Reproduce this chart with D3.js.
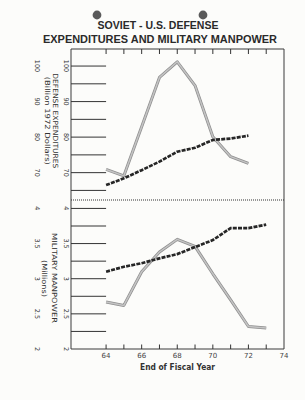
<!DOCTYPE html>
<html>
<head>
<meta charset="utf-8">
<script src="https://cdn.jsdelivr.net/npm/d3@7"></script>
<style>
  html, body { margin: 0; padding: 0; background: #fcfcfa; }
  svg { display: block; }
</style>
</head>
<body>
<div id="chart"></div>
<script>
// fiscal years
const years = [64, 65, 66, 67, 68, 69, 70, 71, 72, 73];
const xTicks = [64, 66, 68, 70, 72, 74];

// defense expenditures, billion 1972 dollars (64..72)
const spendGrey = [70.9, 69.1, 82.9, 96.8, 101.2, 94.5, 80.1, 74.5, 72.6];
const spendDash = [66.5, 68.4, 70.7, 73.1, 75.9, 77.0, 79.2, 79.6, 80.4];
const spendTicks = [100, 95, 90, 85, 80, 75, 70, 65];
const spendLabels = [100, 90, 80, 70];

// military manpower, millions (64..73)
const menGrey = [2.67, 2.62, 3.10, 3.38, 3.56, 3.46, 3.07, 2.70, 2.32, 2.30];
const menDash = [3.10, 3.17, 3.22, 3.29, 3.35, 3.45, 3.55, 3.72, 3.72, 3.77];
const menTicks = [4, 3.75, 3.5, 3.25, 3, 2.75, 2.5, 2.25];
const menLabels = ["4", "3.5", "3", "2.5", "2"];

const width = 305, height = 400;
const fLeft = 71, fRight = 284, fTop = 49, fBottom = 349, fMid = 200;

const svg = d3.select("#chart")
  .append("svg")
  .attr("width", width)
  .attr("height", height)
  .style("font-family", "'DejaVu Sans', sans-serif");

const x = d3.scaleLinear().domain([62, 74]).range([70.5, 284]);
const yTop = d3.scaleLinear().domain([62.3, 104.8]).range([fMid, fTop]);
const yBot = d3.scaleLinear().domain([2, 4.12]).range([fBottom, fMid]);

// punch holes
svg.selectAll("circle.hole")
  .data([97, 203])
  .enter()
  .append("circle")
  .attr("cx", d => d)
  .attr("cy", 15)
  .attr("r", 4.4)
  .attr("fill", "#5a5a5a");

// title
const titleFont = "'Liberation Sans', Arial, sans-serif";
svg.append("text")
  .attr("x", 158).attr("y", 29)
  .attr("text-anchor", "middle")
  .attr("font-family", titleFont)
  .attr("font-weight", "bold")
  .attr("font-size", 11)
  .attr("fill", "#2a2a2a")
  .attr("textLength", 121).attr("lengthAdjust", "spacingAndGlyphs")
  .text("SOVIET - U.S. DEFENSE");
svg.append("text")
  .attr("x", 160).attr("y", 42.5)
  .attr("text-anchor", "middle")
  .attr("font-family", titleFont)
  .attr("font-weight", "bold")
  .attr("font-size", 11)
  .attr("fill", "#2a2a2a")
  .attr("textLength", 234).attr("lengthAdjust", "spacingAndGlyphs")
  .text("EXPENDITURES AND MILITARY MANPOWER");

// frame
svg.append("path")
  .attr("d", `M${fLeft},${fTop}H${fRight}V${fBottom}H${fLeft}Z`)
  .attr("fill", "none")
  .attr("stroke", "#3a3a3a")
  .attr("stroke-width", 1);

// dotted divider
svg.append("line")
  .attr("x1", fLeft).attr("x2", fRight)
  .attr("y1", fMid).attr("y2", fMid)
  .attr("stroke", "#333")
  .attr("stroke-width", 1.2)
  .attr("stroke-dasharray", "1,1");

// left tick lines, long ones reaching to the 64 position
const tickEnd = x(64);
svg.selectAll("line.ttick")
  .data(spendTicks)
  .enter()
  .append("line")
  .attr("x1", fLeft).attr("x2", tickEnd)
  .attr("y1", d => yTop(d)).attr("y2", d => yTop(d))
  .attr("stroke", "#333").attr("stroke-width", 1);
svg.selectAll("line.btick")
  .data(menTicks)
  .enter()
  .append("line")
  .attr("x1", fLeft).attr("x2", tickEnd)
  .attr("y1", d => yBot(d)).attr("y2", d => yBot(d))
  .attr("stroke", "#333").attr("stroke-width", 1);

// year ticks top and bottom
svg.selectAll("line.xtop")
  .data(years)
  .enter()
  .append("line")
  .attr("x1", d => x(d)).attr("x2", d => x(d))
  .attr("y1", fTop).attr("y2", fTop + 5)
  .attr("stroke", "#333");
svg.selectAll("line.xbot")
  .data(years)
  .enter()
  .append("line")
  .attr("x1", d => x(d)).attr("x2", d => x(d))
  .attr("y1", fBottom).attr("y2", fBottom - 4.5)
  .attr("stroke", "#333");

svg.selectAll("text.xlab")
  .data(xTicks)
  .enter()
  .append("text")
  .attr("x", d => x(d))
  .attr("y", 358)
  .attr("text-anchor", "middle")
  .attr("font-size", 7)
  .attr("fill", "#444")
  .text(d => d);

svg.append("text")
  .attr("x", 177.5).attr("y", 370)
  .attr("text-anchor", "middle")
  .attr("font-weight", "bold")
  .attr("font-size", 9)
  .attr("fill", "#333")
  .attr("textLength", 75).attr("lengthAdjust", "spacingAndGlyphs")
  .text("End of Fiscal Year");

// rotated labels (read top to bottom)
function vText(cx, cy, txt, size, len) {
  const t = svg.append("text")
    .attr("transform", `translate(${cx},${cy}) rotate(90)`)
    .attr("text-anchor", "middle")
    .attr("dominant-baseline", "central")
    .attr("font-size", size)
    .attr("fill", "#333")
    .text(txt);
  if (len) t.attr("textLength", len).attr("lengthAdjust", "spacingAndGlyphs");
  return t;
}

[65.5, 36.5].forEach(cx => {
  spendLabels.forEach(v => vText(cx, yTop(v), v, 6.5));
  menLabels.forEach(v => vText(cx, yBot(+v), v, 6.5));
});

vText(55, 120.8, "DEFENSE EXPENDITURES", 7, 95);
vText(46.5, 120.8, "(Billion 1972 Dollars)", 7, 88);
vText(53.5, 278, "MILITARY MANPOWER", 7, 90);
vText(44, 278.5, "(Millions)", 7, 37);

// series lines
const lineTop = d3.line().x((d, i) => x(years[i])).y(d => yTop(d));
const lineBot = d3.line().x((d, i) => x(years[i])).y(d => yBot(d));

function greyLine(data, gen) {
  svg.append("path")
    .attr("d", gen(data))
    .attr("fill", "none")
    .attr("stroke", "#8f8f8f")
    .attr("stroke-width", 3)
    .attr("stroke-linejoin", "round");
  svg.append("path")
    .attr("d", gen(data))
    .attr("fill", "none")
    .attr("stroke", "#c4c4c4")
    .attr("stroke-width", 1.5)
    .attr("stroke-linejoin", "round");
}

function dashLine(data, gen) {
  svg.append("path")
    .attr("d", gen(data))
    .attr("fill", "none")
    .attr("stroke", "#262626")
    .attr("stroke-width", 2.7)
    .attr("stroke-dasharray", "4,1.2");
}

greyLine(spendGrey, lineTop);
dashLine(spendDash, lineTop);
greyLine(menGrey, lineBot);
dashLine(menDash, lineBot);
</script>
</body>
</html>
